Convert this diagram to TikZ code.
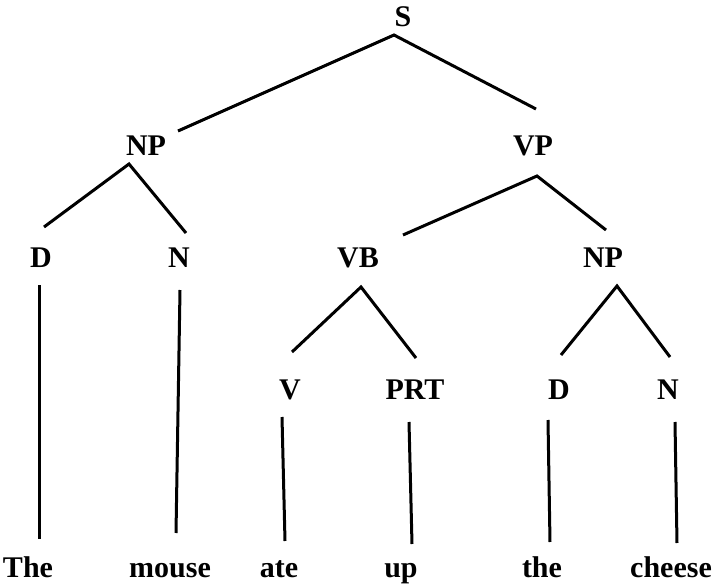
\documentclass[tikz,border=0pt]{standalone}
\usepackage{fontspec}
\setmainfont{Liberation Serif}
\usetikzlibrary{calc}

\begin{document}
\begin{tikzpicture}[x=1pt,y=-1pt,
    cat/.style={anchor=base,inner sep=0pt,font=\bfseries\fontsize{30}{36}\selectfont},
    branch/.style={line width=3pt}]
    \useasboundingbox (0,0) rectangle (716,586);

    \node[cat] (s)   at (403,27)  {S};
    \node[cat] (np1) at (146,155) {NP};
    \node[cat] (vp)  at (533,155) {VP};
    \node[cat] (d1)  at (41,267)  {D};
    \node[cat] (n1)  at (179,267) {N};
    \node[cat] (vb)  at (358,267) {VB};
    \node[cat] (np2) at (603,267) {NP};
    \node[cat] (v)   at (290,399) {V};
    \node[cat] (prt) at (415,399) {PRT};
    \node[cat] (d2)  at (559,399) {D};
    \node[cat] (n2)  at (668,399) {N};

    \node[cat] (w1) at (28,577)  {The};
    \node[cat] (w2) at (170,577) {mouse};
    \node[cat] (w3) at (279,577) {ate};
    \node[cat] (w4) at (401,577) {up};
    \node[cat] (w5) at (542,577) {the};
    \node[cat] (w6) at (671,577) {cheese};

    \begin{scope}[branch]
    \draw ($(np1.base)+(32,-24)$) -- ($(s.base)+(-9,8)$) -- ($(vp.base)+(3,-46)$);
    \draw ($(d1.base)+(3,-40)$) -- ($(np1.base)+(-17,9)$) -- ($(n1.base)+(7,-34)$);
    \draw ($(vb.base)+(45,-32)$) -- ($(vp.base)+(4,21)$) -- ($(np2.base)+(3,-37)$);
    \draw ($(v.base)+(2,-47)$) -- ($(vb.base)+(3,20)$) -- ($(prt.base)+(1,-41)$);
    \draw ($(d2.base)+(2,-44)$) -- ($(np2.base)+(14,19)$) -- ($(n2.base)+(2,-42)$);

    \draw ($(d1.base)+(-2,18)$) -- ($(w1.base)+(11,-38)$);
    \draw ($(n1.base)+(1,23)$) -- ($(w2.base)+(6,-44)$);
    \draw ($(v.base)+(-8,18)$) -- ($(w3.base)+(6,-36)$);
    \draw ($(prt.base)+(-6,23)$) -- ($(w4.base)+(11,-33)$);
    \draw ($(d2.base)+(-11,21)$) -- ($(w5.base)+(8,-35)$);
    \draw ($(n2.base)+(7,23)$) -- ($(w6.base)+(6,-34)$);
    \end{scope}

\end{tikzpicture}
\end{document}
